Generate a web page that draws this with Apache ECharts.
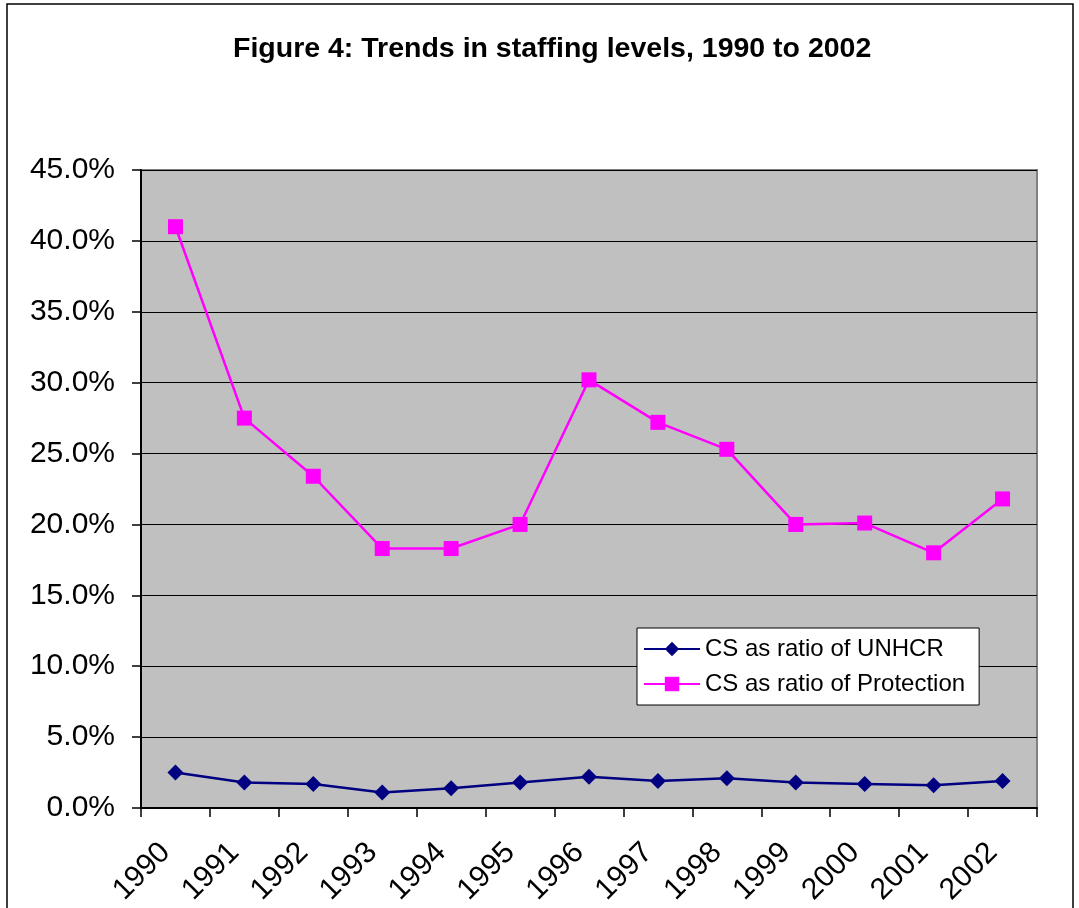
<!DOCTYPE html>
<html>
<head>
<meta charset="utf-8">
<script src="https://cdn.jsdelivr.net/npm/echarts@6/dist/echarts.min.js"></script>
<style>
  html, body { margin: 0; padding: 0; background: #fff; }
  #chart { width: 1079px; height: 908px; }
</style>
</head>
<body>
<div id="chart"></div>
<script>
// years on the x axis
var years = ['1990', '1991', '1992', '1993', '1994', '1995', '1996',
  '1997', '1998', '1999', '2000', '2001', '2002']
// values in percent
var ratioUnhcr = [2.5, 1.8, 1.7, 1.1, 1.4, 1.8, 2.2, 1.9, 2.1, 1.8, 1.7, 1.6, 1.9]
var ratioProtection = [41.0, 27.5, 23.4, 18.3, 18.3, 20.0, 30.2, 27.2, 25.3, 20.0, 20.1, 18.0, 21.8]
var seriesNames = ['CS as ratio of UNHCR', 'CS as ratio of Protection']

var chart = echarts.init(document.getElementById('chart'))
var font = 'Liberation Sans, Arial, sans-serif'

var option = {
  backgroundColor: '#fff',
  animation: false,
  title: {
    text: 'Figure 4: Trends in staffing levels, 1990 to 2002',
    left: 228,
    top: 30,
    textStyle: {
      fontFamily: font,
      fontSize: 28.5,
      fontWeight: 'bold',
      color: '#000'
    }
  },
  //外框
  graphic: [{
    type: 'rect',
    shape: { x: 7, y: 4, width: 1066, height: 1000 },
    style: { fill: 'none', stroke: '#000', lineWidth: 1.5 },
    silent: true
  }],
  grid: {
    left: 141,
    right: 42,
    top: 170,
    bottom: 100,
    show: true,
    backgroundColor: '#C0C0C0',
    borderColor: '#808080',
    borderWidth: 2
  },
  legend: {
    orient: 'vertical',
    left: 637,
    top: 628,
    data: seriesNames,
    backgroundColor: '#fff',
    borderColor: '#000',
    borderWidth: 1,
    borderRadius: 0,
    padding: [9, 14, 9, 6],
    itemWidth: 56,
    itemHeight: 18,
    itemGap: 11,
    textStyle: {
      fontFamily: font,
      fontSize: 24,
      color: '#000'
    }
  },
  xAxis: {
    type: 'category',
    data: years,
    boundaryGap: true,
    axisLine: { lineStyle: { color: '#000', width: 2 } },
    axisTick: { show: true, inside: false, length: 9, lineStyle: { color: '#000', width: 1.5 } },
    axisLabel: {
      interval: 0,
      rotate: 45,
      margin: 30,
      padding: [0, 14, 0, 0],
      fontFamily: font,
      fontSize: 30,
      color: '#000'
    },
    splitLine: { show: false }
  },
  yAxis: {
    type: 'value',
    min: 0,
    max: 45,
    interval: 5,
    axisLine: { show: true, lineStyle: { color: '#000', width: 2 } },
    axisTick: { show: true, inside: false, length: 9, lineStyle: { color: '#000', width: 1.5 } },
    axisLabel: {
      margin: 26,
      fontFamily: font,
      fontSize: 30,
      color: '#000',
      formatter: function (v) {
        return v.toFixed(1) + '%'
      }
    },
    splitLine: { show: true, lineStyle: { color: '#000', width: 1 } }
  },
  series: [
    {
      name: seriesNames[0],
      type: 'line',
      data: ratioUnhcr,
      symbol: 'diamond',
      symbolSize: 16,
      lineStyle: { color: '#000080', width: 2.5 },
      itemStyle: { color: '#000080' }
    },
    {
      name: seriesNames[1],
      type: 'line',
      data: ratioProtection,
      symbol: 'rect',
      symbolSize: 15,
      lineStyle: { color: '#FF00FF', width: 2.5 },
      itemStyle: { color: '#FF00FF' }
    }
  ]
}
chart.setOption(option, true)
</script>
</body>
</html>
